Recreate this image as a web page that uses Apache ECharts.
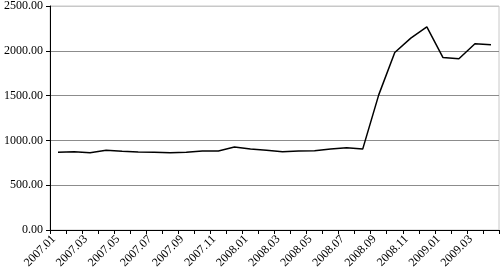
<!DOCTYPE html>
<html>
<head>
<meta charset="utf-8">
<script src="https://cdn.jsdelivr.net/npm/echarts@6/dist/echarts.min.js"></script>
<style>
html,body{margin:0;padding:0;background:#fff;}
#chart{width:500px;height:274px;}
</style>
</head>
<body>
<div id="chart"></div>
<script>
const categories = ['2007.01','2007.02','2007.03','2007.04','2007.05','2007.06','2007.07','2007.08','2007.09','2007.10','2007.11','2007.12',
  '2008.01','2008.02','2008.03','2008.04','2008.05','2008.06','2008.07','2008.08','2008.09','2008.10','2008.11','2008.12',
  '2009.01','2009.02','2009.03','2009.04'];
const values = [867,874,863,889,878,870,867,863,867,881,881,926,
  903,889,874,881,885,903,918,903,1508,1981,2141,2267,
  1926,1911,2078,2067];
const yTicks = [0,500,1000,1500,2000,2500];

const chart = echarts.init(document.getElementById('chart'), null, {renderer:'canvas'});
const font = '"Liberation Serif", "Times New Roman", serif';
chart.setOption({
  animation:false,
  grid:{left:50, right:1, top:5, bottom:44, show:true, borderColor:'#c8c8c8', borderWidth:1},
  xAxis:{
    type:'category', data:categories, boundaryGap:true,
    axisLine:{lineStyle:{color:'#000', width:1}},
    axisTick:{show:true, interval:0, length:4, alignWithLabel:false, lineStyle:{color:'#000'}},
    axisLabel:{interval:1, rotate:45, margin:3, padding:[0,6,0,0], color:'#000', fontFamily:font, fontSize:12},
    splitLine:{show:false}
  },
  yAxis:{
    type:'value', min:yTicks[0], max:yTicks[yTicks.length-1], interval:500,
    axisLine:{show:true, lineStyle:{color:'#000', width:1}},
    axisTick:{show:true, length:4, lineStyle:{color:'#000'}},
    axisLabel:{color:'#000', fontFamily:font, fontSize:12, margin:7, formatter:v=>v.toFixed(2)},
    splitLine:{show:true, lineStyle:{color:['#8c8c8c','#8c8c8c','#8c8c8c','#8c8c8c','#8c8c8c','#c8c8c8'], width:1}}
  },
  series:[{
    type:'line', data:values, showSymbol:false, symbol:'none',
    lineStyle:{color:'#000', width:1.5}
  }]
});
</script>
</body>
</html>
